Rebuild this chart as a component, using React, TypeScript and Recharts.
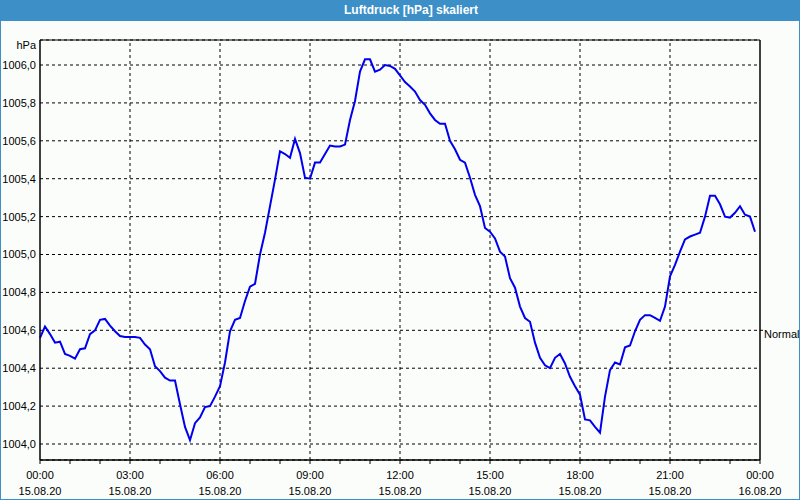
import React from 'react';
import {
	LineChart,
	Line,
	XAxis,
	YAxis,
	CartesianGrid,
	ReferenceLine,
	ReferenceArea,
} from 'recharts';

// Luftdruck, Messwerte alle 10 Minuten ab 15.08.20 00:00
const intervalMinutes = 10;
const pressure = [
	1004.56, 1004.62, 1004.58, 1004.535, 1004.54, 1004.475, 1004.465, 1004.45, 1004.5, 1004.505,
	1004.58, 1004.6, 1004.655, 1004.66, 1004.625, 1004.595, 1004.57, 1004.565, 1004.565, 1004.565,
	1004.56, 1004.525, 1004.5, 1004.41, 1004.385, 1004.35, 1004.335, 1004.335, 1004.21, 1004.09,
	1004.02, 1004.11, 1004.14, 1004.195, 1004.2, 1004.25, 1004.305, 1004.43, 1004.595, 1004.655,
	1004.665, 1004.755, 1004.83, 1004.845, 1005.0, 1005.115, 1005.255, 1005.395, 1005.545, 1005.53,
	1005.51, 1005.61, 1005.535, 1005.405, 1005.4, 1005.485, 1005.485, 1005.53, 1005.575, 1005.57,
	1005.57, 1005.58, 1005.71, 1005.81, 1005.965, 1006.03, 1006.03, 1005.965, 1005.975, 1006.0,
	1005.995, 1005.98, 1005.945, 1005.91, 1005.887, 1005.86, 1005.815, 1005.79, 1005.745, 1005.71,
	1005.69, 1005.69, 1005.6, 1005.555, 1005.5, 1005.485, 1005.405, 1005.315, 1005.255, 1005.14,
	1005.12, 1005.085, 1005.015, 1004.99, 1004.875, 1004.825, 1004.725, 1004.665, 1004.645, 1004.535,
	1004.455, 1004.415, 1004.4, 1004.455, 1004.475, 1004.425, 1004.355, 1004.305, 1004.26, 1004.13,
	1004.125, 1004.09, 1004.06, 1004.25, 1004.39, 1004.43, 1004.42, 1004.51, 1004.52, 1004.595,
	1004.655, 1004.68, 1004.68, 1004.665, 1004.65, 1004.725, 1004.885, 1004.945, 1005.015, 1005.08,
	1005.095, 1005.105, 1005.115, 1005.2, 1005.31, 1005.31, 1005.265, 1005.2, 1005.195, 1005.22,
	1005.255, 1005.21, 1005.2, 1005.12,
];

const hourTicks = [
	0, 60, 120, 180, 240, 300, 360, 420, 480, 540, 600, 660, 720, 780, 840, 900, 960, 1020, 1080,
	1140, 1200, 1260, 1320, 1380, 1440,
];
const majorTicks = [0, 180, 360, 540, 720, 900, 1080, 1260, 1440];
const timeLabels = ['00:00', '03:00', '06:00', '09:00', '12:00', '15:00', '18:00', '21:00', '00:00'];
const dateLabels = [
	'15.08.20', '15.08.20', '15.08.20', '15.08.20', '15.08.20', '15.08.20', '15.08.20', '15.08.20',
	'16.08.20',
];
const yTicks = [1004.0, 1004.2, 1004.4, 1004.6, 1004.8, 1005.0, 1005.2, 1005.4, 1005.6, 1005.8, 1006.0];
const normalPressure = 1004.6;
const yDomain = [1003.9156, 1006.132];

const data = pressure.map((p, i) => ({ t: i * intervalMinutes, p }));

const FONT = '"Liberation Sans", Arial, sans-serif';
const BLUE = '#3c8fc7';

const TimeTick = (props: any) => {
	const { x, y, payload } = props;
	const idx = majorTicks.indexOf(payload.value);
	if (idx < 0) return null;
	return (
		<g>
			<text x={x} y={y + 13} textAnchor='middle' fill='#000' fontSize={11} fontFamily={FONT}>
				{timeLabels[idx]}
			</text>
			<text x={x} y={y + 28.5} textAnchor='middle' fill='#000' fontSize={11} fontFamily={FONT}>
				{dateLabels[idx]}
			</text>
		</g>
	);
};

const NormalTick = (props: any) => {
	const { x, y } = props;
	return (
		<text x={x} y={y + 8} textAnchor='start' fill='#000' fontSize={11} fontFamily={FONT}>
			Normal
		</text>
	);
};

const App = () => {
	return (
		<div
			style={{
				position: 'absolute',
				left: 0,
				top: 0,
				width: 800,
				height: 500,
				background: '#fbfdfb',
				fontFamily: FONT,
			}}
		>
			<div style={{ position: 'absolute', left: 0, top: 0 }}>
				<LineChart
					width={800}
					height={500}
					data={data}
					margin={{ top: 40, right: 0, bottom: 0, left: 0 }}
				>
					<CartesianGrid
						yAxisId='left'
						vertical={false}
						stroke='#000'
						strokeDasharray='3 3'
					/>
					<XAxis
						dataKey='t'
						type='number'
						domain={[0, 1440]}
						ticks={hourTicks}
						interval={0}
						height={40}
						tickSize={4}
						tickMargin={2}
						axisLine={{ stroke: '#000' }}
						tickLine={{ stroke: '#000' }}
						tick={<TimeTick />}
					/>
					<YAxis
						yAxisId='left'
						type='number'
						domain={yDomain}
						allowDataOverflow
						ticks={yTicks}
						interval={0}
						width={40}
						tickSize={0}
						tickMargin={4}
						tickLine={false}
						axisLine={{ stroke: '#000' }}
						tick={{ fill: '#000', fontSize: 11, fontFamily: FONT }}
						tickFormatter={(v: number) => v.toFixed(1).replace('.', ',')}
					/>
					<YAxis
						yAxisId='right'
						orientation='right'
						type='number'
						domain={yDomain}
						allowDataOverflow
						ticks={[normalPressure]}
						width={40}
						tickSize={3}
						tickMargin={1}
						axisLine={{ stroke: '#000' }}
						tickLine={{ stroke: '#000' }}
						tick={<NormalTick />}
					/>
					{majorTicks.slice(1, -1).map((t) => (
						<ReferenceLine
							key={t}
							x={t}
							yAxisId='left'
							stroke='#000'
							strokeDasharray='3 3'
						/>
					))}
					<ReferenceArea
						x1={0}
						x2={1440}
						y1={yDomain[0]}
						y2={yDomain[1]}
						yAxisId='left'
						fill='none'
						fillOpacity={0}
						stroke='#000'
						strokeWidth={1}
					/>
					<Line
						yAxisId='left'
						type='linear'
						dataKey='p'
						stroke='#0000ee'
						strokeWidth={2}
						dot={false}
						isAnimationActive={false}
					/>
				</LineChart>
			</div>
			<div
				style={{
					position: 'absolute',
					left: 0,
					top: 0,
					width: 800,
					height: 21,
					background: BLUE,
				}}
			>
				<div
					style={{
						position: 'absolute',
						left: 411,
						top: 3,
						transform: 'translateX(-50%)',
						color: '#fff',
						fontWeight: 'bold',
						fontSize: 12,
						lineHeight: '14px',
						whiteSpace: 'nowrap',
					}}
				>
					Luftdruck [hPa] skaliert
				</div>
			</div>
			<div
				style={{
					position: 'absolute',
					right: 764,
					top: 39,
					fontSize: 11,
					lineHeight: '13px',
					color: '#000',
				}}
			>
				hPa
			</div>
			<div
				style={{
					position: 'absolute',
					left: 0,
					top: 0,
					width: 800,
					height: 500,
					boxSizing: 'border-box',
					border: `1px solid ${BLUE}`,
					pointerEvents: 'none',
				}}
			/>
		</div>
	);
};

export default App;
